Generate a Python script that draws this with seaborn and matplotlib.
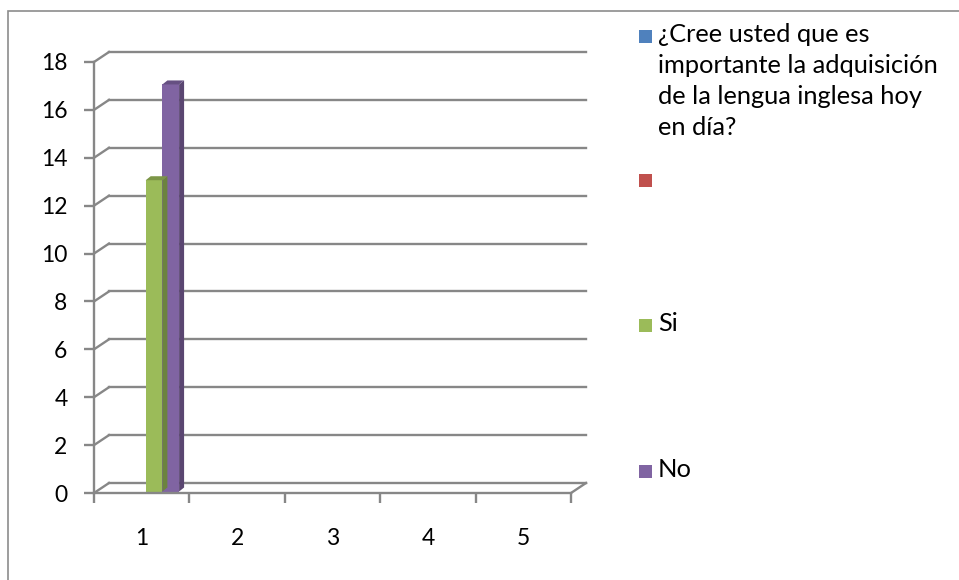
import numpy as np
import pandas as pd
import matplotlib
matplotlib.use("Agg")
import matplotlib.pyplot as plt
import matplotlib.transforms as mtransforms
from matplotlib.patches import Polygon, Rectangle
import seaborn as sns

# ------------------------------
# Data
# ------------------------------
categories = ["1", "2", "3", "4", "5"]
series_names = [
    "¿Cree usted que es\nimportante la adquisición\nde la lengua inglesa hoy\nen día?",
    "",
    "Si",
    "No",
]
pregunta = [0, 0, 0, 0, 0]
vacio = [0, 0, 0, 0, 0]
si = [13, 0, 0, 0, 0]
no = [17, 0, 0, 0, 0]
yticks = [0, 2, 4, 6, 8, 10, 12, 14, 16, 18]

colors = ["#4F81BD", "#C0504D", "#9BBB59", "#8064A2"]
grid_color = "#878787"
font = ["Lato", "DejaVu Sans"]

df = pd.DataFrame({
    "categoria": categories * 4,
    "serie": [s for s in series_names for _ in categories],
    "valor": pregunta + vacio + si + no,
})

# ------------------------------
# Figure
# ------------------------------
W, H = 959, 580
fig = plt.figure(figsize=(W / 100, H / 100), dpi=100)
plt.rcParams['font.family'] = font

left, right, top, bottom = 94, 571, 62, 493
ax = fig.add_axes([left / W, 1 - bottom / H, (right - left) / W, (bottom - top) / H])

sns.barplot(data=df, x="categoria", y="valor", hue="serie", hue_order=series_names,
            order=categories, palette=colors, width=0.7, errorbar=None,
            saturation=1, legend=False, ax=ax)

ax.set_xlim(-0.5, len(categories) - 0.5)
ax.set_ylim(0, 18)
ax.set_yticks(yticks)
ax.set_xlabel("")
ax.set_ylabel("")

# pixel sizes of one data unit
px_x = (right - left) / len(categories)
px_y = (bottom - top) / 18

# back wall offset (fake 3D)
wall_dx, wall_dy = 15, 10
wall = ax.transData + mtransforms.ScaledTranslation(wall_dx / 100, wall_dy / 100, fig.dpi_scale_trans)
x0, x1 = -0.5, len(categories) - 0.5
for y in yticks:
    ax.plot([x0, x1], [y, y], color=grid_color, lw=1.7, transform=wall, clip_on=False, zorder=0.5)
    ax.plot([x0, x0 + wall_dx / px_x], [y, y + wall_dy / px_y], color=grid_color, lw=1.7,
            clip_on=False, zorder=0.5)
# floor right edge
ax.plot([x1, x1 + wall_dx / px_x], [0, wall_dy / px_y], color=grid_color, lw=1.7,
        clip_on=False, zorder=0.5)

# 3D look for the bars
shift = ax.transData + mtransforms.ScaledTranslation(4 / 100, 1.5 / 100, fig.dpi_scale_trans)
bdx, bdy = 5 / px_x, 4 / px_y
for p in list(ax.patches):
    h = p.get_height()
    if not h or np.isnan(h):
        continue
    p.set_transform(shift)
    xa, w = p.get_x(), p.get_width()
    fc = np.array(matplotlib.colors.to_rgb(p.get_facecolor()))
    side = Polygon([(xa + w, 0), (xa + w + bdx, bdy), (xa + w + bdx, h + bdy), (xa + w, h)],
                   closed=True, facecolor=fc * 0.7, edgecolor="none", transform=shift)
    topf = Polygon([(xa, h), (xa + bdx, h + bdy), (xa + w + bdx, h + bdy), (xa + w, h)],
                   closed=True, facecolor=fc * 0.8, edgecolor="none", transform=shift)
    ax.add_patch(side)
    ax.add_patch(topf)

# spines and ticks
for s in ["top", "right"]:
    ax.spines[s].set_visible(False)
for s in ["left", "bottom"]:
    ax.spines[s].set_color(grid_color)
    ax.spines[s].set_linewidth(1.7)
ax.tick_params(axis="y", length=7, width=1.7, color=grid_color, pad=12, labelsize=16.5)
ax.set_xticks(np.arange(-0.5, len(categories), 1), minor=True)
ax.tick_params(axis="x", which="major", length=0, pad=25, labelsize=16.5)
ax.tick_params(axis="x", which="minor", length=7, width=1.7, color=grid_color)

# legend (Excel-style, evenly spaced entries)
legend_y = [36, 180, 325, 471]
for name, color, yy in zip(series_names, colors, legend_y):
    fig.add_artist(Rectangle((639 / W, 1 - (yy + 6.5) / H), 13 / W, 13 / H,
                             transform=fig.transFigure, facecolor=color, edgecolor="none"))
    fig.text(658 / W, 1 - (yy - 13) / H, name, ha="left", va="top", fontsize=18.3,
             linespacing=1.42, family=font)

# outer border
fig.add_artist(Rectangle((8 / W, -0.05), 1.0, 1 - 11 / H + 0.05, transform=fig.transFigure,
                         fill=False, edgecolor="#8C8C8C", lw=1.2))

plt.savefig("out.png", dpi=100)
